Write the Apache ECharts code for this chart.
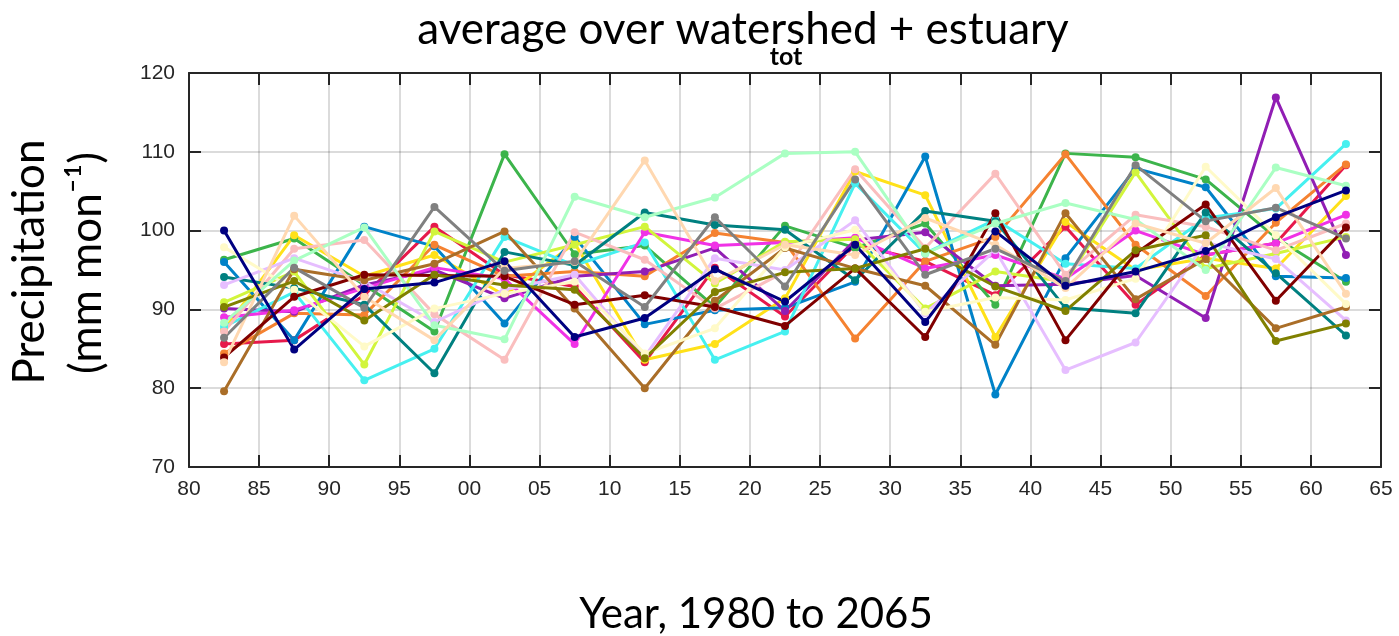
<!DOCTYPE html>
<html>
<head>
<meta charset="utf-8">
<script src="https://cdn.jsdelivr.net/npm/echarts@6/dist/echarts.min.js"></script>
<style>
  html, body { margin: 0; padding: 0; background: #fff; }
  #chart { width: 1399px; height: 636px; }
</style>
</head>
<body>
<div id="chart"></div>
<script>
// Five-year period mid-points, 1982.5 .. 2062.5
const years = [1982.5, 1987.5, 1992.5, 1997.5, 2002.5, 2007.5, 2012.5, 2017.5, 2022.5,
               2027.5, 2032.5, 2037.5, 2042.5, 2047.5, 2052.5, 2057.5, 2062.5];

// Total precipitation (mm/month), one array per ensemble member
const red      = [85.6, 86.1, 91.8, 100.5, 94.4, 92.9, 83.3, 95.3, 89.1, 98.2, 96.1, 91.8, 100.5, 90.6, 96.9, 98.4, 108.3];
const green    = [96.3, 99.0, 93.1, 87.2, 109.7, 97.0, 98.1, 90.3, 100.6, 97.8, 100.9, 90.6, 109.8, 109.3, 106.5, 99.1, 93.5];
const yellow   = [87.4, 99.4, 94.2, 96.9, 91.8, 98.4, 83.6, 85.6, 91.4, 107.5, 104.5, 86.5, 101.1, 95.0, 96.5, 95.2, 104.4];
const blue     = [96.0, 86.1, 100.5, 98.0, 88.2, 99.2, 88.1, 89.9, 90.2, 93.5, 109.4, 79.2, 96.5, 107.9, 105.5, 94.2, 94.0];
const orange   = [84.4, 89.5, 89.3, 98.2, 94.2, 94.8, 94.2, 99.7, 98.5, 86.3, 96.1, 99.2, 109.7, 98.2, 91.7, 101.0, 108.4];
const purple   = [90.1, 89.7, 93.1, 95.0, 91.4, 94.2, 94.8, 97.8, 89.8, 98.8, 99.8, 93.0, 93.2, 94.3, 88.9, 116.9, 96.9];
const cyan     = [87.8, 92.2, 81.0, 85.0, 99.2, 95.6, 98.5, 83.6, 87.2, 106.0, 97.1, 101.4, 95.8, 95.2, 101.6, 102.8, 111.0];
const magenta  = [89.0, 89.9, 92.7, 95.3, 93.9, 85.6, 99.8, 98.1, 98.5, 99.1, 95.2, 96.9, 93.9, 100.0, 96.9, 98.4, 102.0];
const lime     = [90.9, 94.8, 83.0, 99.9, 96.0, 98.2, 100.5, 93.3, 98.6, 98.9, 90.1, 94.8, 93.5, 107.4, 95.2, 97.1, 99.2];
const pink     = [87.2, 97.7, 98.8, 89.4, 83.6, 99.8, 96.3, 90.1, 94.8, 107.8, 97.8, 107.2, 94.4, 102.0, 100.5, 97.5, 100.9];
const teal     = [94.1, 92.7, 90.6, 81.9, 97.3, 95.6, 102.3, 100.7, 100.1, 93.7, 102.5, 101.2, 90.2, 89.5, 102.3, 94.6, 86.7];
const lavender = [93.1, 96.5, 93.5, 88.4, 92.5, 94.4, 84.0, 96.5, 95.0, 101.3, 89.5, 97.5, 82.3, 85.8, 98.5, 96.4, 88.6];
const brown    = [79.6, 95.1, 93.7, 95.8, 99.9, 90.1, 80.0, 91.1, 97.8, 95.2, 93.0, 85.5, 102.2, 91.3, 96.4, 87.6, 90.3];
const beige    = [97.9, 92.5, 85.3, 90.1, 92.0, 93.5, 84.4, 87.6, 97.9, 100.1, 89.7, 91.5, 91.2, 93.9, 108.1, 99.4, 90.7];
const maroon   = [83.9, 91.6, 94.4, 94.3, 94.2, 90.6, 91.8, 90.3, 87.9, 95.2, 86.5, 102.2, 86.1, 97.1, 103.3, 91.1, 100.4];
const mint     = [88.3, 96.2, 100.4, 88.0, 86.2, 104.3, 101.7, 104.2, 109.8, 110.0, 97.1, 100.9, 103.5, 101.4, 95.0, 108.0, 105.7];
const olive    = [90.3, 93.6, 88.6, 94.4, 93.1, 92.5, 83.8, 92.2, 94.7, 95.2, 97.7, 92.9, 89.8, 97.5, 99.4, 86.0, 88.2];
const coral    = [83.3, 101.9, 91.6, 86.1, 95.2, 96.0, 108.9, 93.6, 98.2, 96.9, 101.6, 98.2, 92.7, 100.9, 98.4, 105.4, 92.0];
const grey     = [86.4, 95.3, 90.2, 103.0, 94.9, 96.1, 90.3, 101.7, 92.9, 106.5, 94.4, 97.7, 93.6, 108.3, 101.2, 102.9, 99.0];
const navy     = [100.0, 84.9, 92.6, 93.4, 96.1, 86.5, 88.9, 95.1, 91.0, 98.2, 88.4, 99.9, 93.0, 94.8, 97.4, 101.7, 105.1];

const members = [
  ['#e6194b', red], ['#3cb44b', green], ['#ffe119', yellow], ['#0082c8', blue],
  ['#f58231', orange], ['#911eb4', purple], ['#46f0f0', cyan], ['#f032e6', magenta],
  ['#d2f53c', lime], ['#fabebe', pink], ['#008080', teal], ['#e6beff', lavender],
  ['#aa6e28', brown], ['#fffac8', beige], ['#800000', maroon], ['#aaffc3', mint],
  ['#808000', olive], ['#ffd8b1', coral], ['#808080', grey], ['#000080', navy]
];

const series = members.map(([color, vals]) => ({
  type: 'line',
  data: years.map((y, i) => [y, vals[i]]),
  symbol: 'circle',
  symbolSize: 8,
  lineStyle: { color: color, width: 3 },
  itemStyle: { color: color },
  silent: true,
  animation: false
}));

const frame = { show: true, lineStyle: { color: '#262626', width: 2 } };
const ticks = { show: true, inside: true, length: 12, lineStyle: { color: '#262626', width: 2 } };
const tickLab = { fontFamily: 'Liberation Sans, Arial, sans-serif', fontSize: 21, color: '#262626' };
const grid = { show: true, lineStyle: { color: 'rgba(0,0,0,0.14)', width: 2 } };
const labelFont = 'Lato, "Open Sans", sans-serif';

const chart = echarts.init(document.getElementById('chart'), null, { renderer: 'canvas' });
chart.setOption({
  animation: false,
  backgroundColor: '#fff',
  grid: { left: 189, right: 18, top: 73, bottom: 169, containLabel: false },
  xAxis: [{
    type: 'value', min: 1980, max: 2065, interval: 5, position: 'bottom',
    axisLine: frame, axisTick: ticks,
    axisLabel: Object.assign({ margin: 12, formatter: v => String(v % 100).padStart(2, '0') }, tickLab),
    splitLine: grid
  }, {
    type: 'value', min: 1980, max: 2065, interval: 5, position: 'top',
    axisLine: frame, axisTick: ticks,
    axisLabel: { show: false }, splitLine: { show: false }
  }],
  yAxis: [{
    type: 'value', min: 70, max: 120, interval: 10, position: 'left',
    axisLine: frame, axisTick: ticks,
    axisLabel: Object.assign({ margin: 14 }, tickLab),
    splitLine: grid
  }, {
    type: 'value', min: 70, max: 120, interval: 10, position: 'right',
    axisLine: frame, axisTick: ticks,
    axisLabel: { show: false }, splitLine: { show: false }
  }],
  series: series,
  graphic: [
    { type: 'text', x: 743, y: 30, style: { text: 'average over watershed + estuary', font: '44px ' + labelFont, fill: '#000', textAlign: 'center', textVerticalAlign: 'middle' } },
    { type: 'text', x: 786, y: 57, style: { text: 'tot', font: 'bold 25px ' + labelFont, fill: '#000', textAlign: 'center', textVerticalAlign: 'middle' } },
    { type: 'text', x: 30, y: 262, rotation: Math.PI / 2, style: { text: 'Precipitation', font: '44px ' + labelFont, fill: '#000', textAlign: 'center', textVerticalAlign: 'middle' } },
    { type: 'text', x: 87, y: 263, rotation: Math.PI / 2, style: { text: '(mm mon⁻¹)', font: '44px ' + labelFont, fill: '#000', textAlign: 'center', textVerticalAlign: 'middle' } },
    { type: 'text', x: 756, y: 614, style: { text: 'Year, 1980 to 2065', font: '42px ' + labelFont, fill: '#000', textAlign: 'center', textVerticalAlign: 'middle' } }
  ]
});
</script>
</body>
</html>
